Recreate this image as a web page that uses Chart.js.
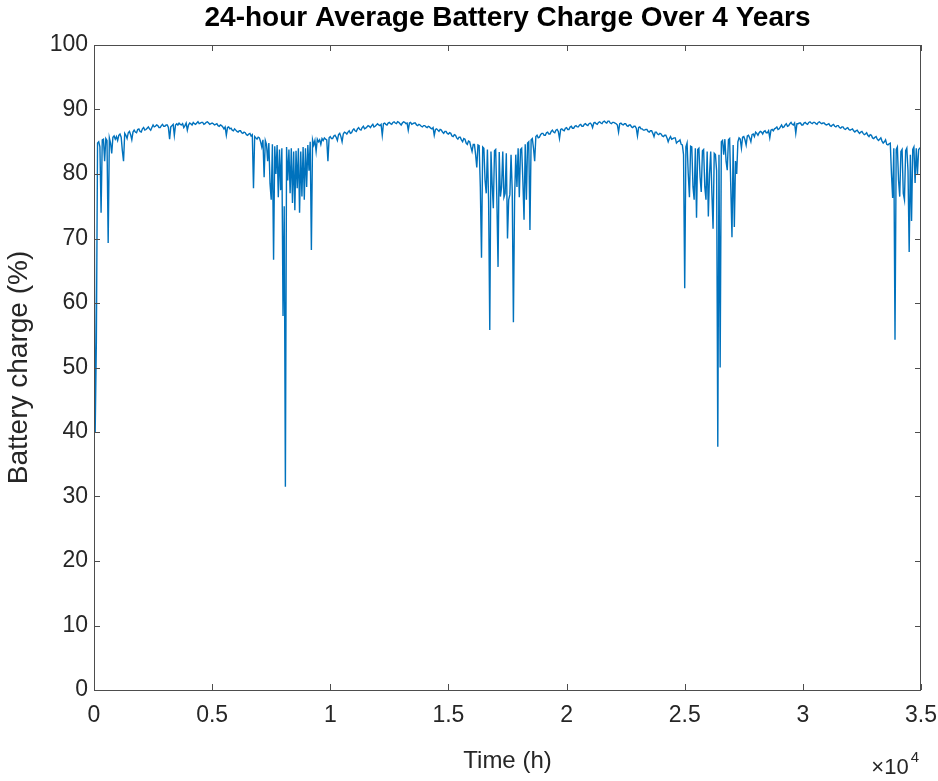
<!DOCTYPE html>
<html>
<head>
<meta charset="utf-8">
<title>24-hour Average Battery Charge Over 4 Years</title>
<script src="https://cdn.jsdelivr.net/npm/chart.js@4.4.1/dist/chart.umd.min.js"></script>
<style>
  html, body { margin: 0; padding: 0; background: #fff; }
  #chart { display: block; }
</style>
</head>
<body>
<canvas id="chart" width="938" height="781"></canvas>
<script>
// one sample every 50 h (0 .. 35000 h)
const SAMPLE_STEP_H = 50;

const charge = [
  84.3, 40.0, 54.0, 84.8, 85.0, 84.2, 74.0, 85.3, 85.4, 82.0,
  85.5, 85.2, 69.3, 85.6, 84.8, 83.2, 85.7, 85.9, 85.4, 85.8,
  85.2, 86.0, 86.2, 85.7, 83.6, 82.0, 86.3, 86.0, 85.5, 86.4,
  86.6, 86.1, 85.3, 86.5, 86.8, 86.5, 86.4, 86.9, 87.0, 86.6,
  86.5, 87.0, 87.2, 86.8, 86.9, 87.1, 87.3, 87.0, 86.8, 87.2,
  87.6, 87.3, 87.4, 87.6, 87.5, 87.2, 87.2, 87.5, 87.7, 87.4,
  87.4, 87.6, 87.6, 87.2, 85.4, 87.3, 87.5, 87.7, 86.0, 87.6,
  87.8, 87.6, 87.9, 87.7, 87.6, 87.8, 87.2, 87.5, 87.9, 86.8,
  87.6, 87.9, 87.8, 87.6, 88.0, 87.8, 87.7, 87.9, 88.1, 87.8,
  87.9, 88.0, 88.0, 87.7, 87.8, 88.0, 88.1, 87.9, 87.7, 87.8,
  87.9, 87.8, 87.6, 87.7, 87.8, 87.5, 87.4, 87.6, 87.5, 87.3,
  87.0, 87.3, 86.0, 87.2, 87.3, 87.0, 87.1, 86.8, 86.7, 87.0,
  86.8, 86.6, 86.5, 86.7, 86.7, 86.4, 86.3, 86.5, 86.4, 86.1,
  86.0, 86.2, 86.3, 85.9, 86.1, 77.8, 85.8, 85.6, 85.4, 85.7,
  85.6, 85.0, 84.2, 85.3, 79.5, 85.2, 84.6, 82.0, 84.8, 78.5,
  76.0, 84.6, 66.7, 84.3, 80.0, 84.5, 76.4, 83.8, 77.5, 84.0,
  58.0, 75.0, 31.5, 84.2, 79.0, 83.8, 77.0, 84.0, 75.5, 83.5,
  74.4, 83.6, 77.8, 84.0, 74.0, 83.5, 76.5, 84.2, 76.0, 84.0,
  78.0, 84.5, 80.5, 85.0, 68.2, 85.3, 84.5, 85.2, 83.5, 85.4,
  85.0, 85.3, 84.6, 85.5, 85.2, 85.6, 85.4, 85.3, 82.0, 85.6,
  85.8, 85.5, 85.5, 85.9, 86.0, 85.7, 85.2, 86.1, 86.3, 85.8,
  85.0, 86.2, 86.5, 86.4, 86.2, 86.5, 86.7, 86.3, 86.4, 86.8,
  87.0, 86.7, 86.6, 87.0, 87.2, 86.9, 86.8, 87.2, 87.4, 87.0,
  87.1, 87.3, 87.5, 87.4, 87.2, 87.5, 87.7, 87.3, 87.4, 87.6,
  87.8, 87.6, 87.5, 87.7, 86.0, 87.8, 87.9, 87.7, 87.6, 87.9,
  88.0, 87.8, 87.7, 88.0, 88.1, 87.9, 87.8, 88.1, 88.0, 87.8,
  87.6, 87.9, 88.1, 88.0, 87.8, 87.9, 86.8, 87.9, 88.0, 87.7,
  87.8, 87.9, 87.9, 87.6, 87.5, 87.7, 87.6, 87.4, 87.3, 87.5,
  87.5, 87.3, 87.2, 87.4, 87.3, 87.1, 87.0, 87.2, 86.0, 86.9,
  87.0, 86.8, 86.6, 86.9, 86.8, 86.5, 86.3, 86.6, 86.6, 86.3,
  86.2, 86.4, 86.3, 85.9, 85.8, 86.1, 86.0, 85.6, 85.4, 85.7,
  85.7, 85.3, 85.0, 85.5, 85.4, 84.8, 84.6, 85.1, 85.0, 84.2,
  83.5, 84.6, 84.6, 83.0, 81.0, 84.5, 84.4, 78.0, 67.0, 84.2,
  84.0, 79.0, 77.0, 83.8, 76.0, 55.8, 83.5, 78.5, 74.7, 83.6,
  83.8, 76.0, 65.6, 83.4, 76.5, 78.0, 83.5, 76.4, 77.0, 83.2,
  70.0, 76.0, 76.8, 83.0, 77.5, 57.0, 76.2, 83.0, 78.0, 84.0,
  76.4, 83.8, 84.0, 79.0, 72.9, 84.6, 76.0, 84.8, 85.0, 71.3,
  85.3, 85.5, 84.0, 82.0, 85.8, 86.0, 85.6, 85.7, 86.1, 86.3,
  86.3, 86.0, 86.0, 86.4, 86.5, 86.2, 86.2, 86.6, 86.8, 86.5,
  86.4, 86.8, 86.9, 86.6, 85.5, 86.9, 87.0, 86.8, 86.7, 87.1,
  87.2, 86.9, 86.9, 87.3, 87.4, 87.1, 87.1, 87.4, 87.5, 87.3,
  87.3, 87.6, 87.7, 87.4, 87.4, 87.7, 87.8, 87.6, 87.5, 87.8,
  87.9, 87.7, 87.2, 87.9, 88.0, 87.8, 87.7, 88.0, 88.1, 87.9,
  87.8, 88.1, 88.2, 88.0, 87.9, 88.2, 88.2, 87.9, 87.8, 88.0,
  88.0, 87.9, 87.8, 87.6, 86.5, 87.8, 87.9, 87.7, 87.6, 87.8,
  87.8, 87.5, 87.4, 87.6, 87.6, 87.3, 87.2, 87.4, 87.4, 87.1,
  85.9, 87.2, 87.3, 87.0, 87.0, 86.8, 86.8, 86.9, 86.9, 86.6,
  86.5, 86.7, 86.7, 86.3, 85.8, 86.5, 86.5, 86.2, 86.1, 86.3,
  86.2, 85.9, 85.8, 86.0, 86.0, 85.6, 85.0, 85.5, 85.8, 85.4,
  85.5, 85.6, 85.6, 84.8, 85.0, 85.1, 85.3, 84.6, 84.5, 83.0,
  62.3, 84.2, 84.8, 80.0, 76.4, 84.3, 84.2, 78.0, 76.0, 84.0,
  73.2, 83.8, 84.0, 79.5, 77.2, 83.6, 83.8, 78.0, 76.0, 83.5,
  73.4, 80.0, 83.5, 77.0, 71.5, 83.2, 83.0, 80.5, 37.7, 83.0,
  50.0, 85.0, 85.2, 83.0, 85.4, 82.0, 80.6, 85.3, 85.5, 78.0,
  70.2, 84.5, 71.8, 82.0, 80.0, 85.0, 85.6, 85.4, 84.0, 85.7,
  85.8, 85.3, 84.5, 85.9, 86.0, 85.6, 85.0, 86.1, 86.2, 85.8,
  86.5, 86.3, 86.0, 86.4, 86.6, 86.5, 86.2, 86.6, 86.7, 86.4,
  86.4, 86.7, 85.6, 86.8, 86.9, 86.7, 87.0, 87.1, 87.3, 86.9,
  87.0, 87.3, 87.6, 87.2, 87.3, 87.6, 87.8, 87.4, 87.5, 87.8,
  88.0, 87.7, 87.6, 87.9, 86.3, 87.8, 87.8, 87.9, 87.9, 87.6,
  87.6, 87.9, 88.0, 87.8, 87.7, 88.0, 88.1, 87.9, 87.8, 88.0,
  88.0, 87.8, 87.7, 88.0, 88.1, 87.9, 87.8, 87.9, 87.9, 87.7,
  87.6, 87.7, 87.8, 87.5, 87.4, 87.6, 87.7, 87.4, 87.3, 87.5,
  87.5, 87.2, 87.1, 87.3, 87.3, 87.0, 86.9, 87.1, 87.2, 86.9,
  86.8, 86.9, 87.0, 86.7, 86.5, 86.7, 86.8, 86.5, 86.3, 86.5,
  86.6, 86.3, 86.1, 86.2, 86.4, 86.0, 85.8, 86.1, 86.0, 85.6,
  85.5, 85.7, 85.8, 85.4, 85.2, 85.4, 85.6, 85.1, 84.8, 85.0,
  85.3, 84.6, 84.5, 84.7, 84.8, 80.0, 76.3, 84.0, 54.3, 83.8,
  84.2, 79.0, 76.5, 83.5, 83.8, 77.0, 76.0, 83.6, 84.0, 80.5,
  67.9, 83.0, 72.7, 83.8, 84.2, 78.6, 84.0, 80.0, 83.8, 84.0,
  84.2
];

const timeHours = charge.map((_, i) => i * SAMPLE_STEP_H);

const xTickLabels = ["0", "0.5", "1", "1.5", "2", "2.5", "3", "3.5"];

const TITLE = "24-hour Average Battery Charge Over 4 Years";
const FONT = '"Liberation Sans", Arial, Helvetica, sans-serif';
const TEXT_COLOR = "#262626";
const AXIS_COLOR = "#4d4d4d";
const LINE_COLOR = "#0072BD";
const TICK_LEN = 6;

// matlab look: box, inward ticks on all sides, title over the axes, x10^4 multiplier
const matlabFrame = {
  id: "matlabFrame",
  afterDatasetsDraw(chart) {
    const { ctx, chartArea: a, scales: { x, y } } = chart;
    ctx.save();
    ctx.strokeStyle = AXIS_COLOR;
    ctx.lineWidth = 1;
    ctx.strokeRect(a.left + 0.5, a.top + 0.5, a.right - a.left - 1, a.bottom - a.top);

    ctx.beginPath();
    x.ticks.forEach((t) => {
      const px = Math.round(x.getPixelForValue(t.value)) + 0.5;
      ctx.moveTo(px, a.bottom);
      ctx.lineTo(px, a.bottom - TICK_LEN);
      ctx.moveTo(px, a.top);
      ctx.lineTo(px, a.top + TICK_LEN);
    });
    y.ticks.forEach((t) => {
      const py = Math.round(y.getPixelForValue(t.value)) + 0.5;
      ctx.moveTo(a.left, py);
      ctx.lineTo(a.left + TICK_LEN, py);
      ctx.moveTo(a.right, py);
      ctx.lineTo(a.right - TICK_LEN, py);
    });
    ctx.stroke();

    ctx.fillStyle = "#000";
    ctx.textAlign = "center";
    ctx.textBaseline = "alphabetic";
    ctx.font = "bold 28px " + FONT;
    ctx.fillText(TITLE, (a.left + a.right) / 2, 26);

    ctx.fillStyle = TEXT_COLOR;
    ctx.textAlign = "right";
    ctx.font = "15px " + FONT;
    const supW = ctx.measureText("4").width;
    ctx.fillText("4", a.right - 2, 762);
    ctx.font = "22px " + FONT;
    ctx.fillText("\u00d710", a.right - 4 - supW, 774);
    ctx.restore();
  },
};

const ctx = document.getElementById("chart").getContext("2d");

new Chart(ctx, {
  type: "line",
  data: {
    datasets: [{
      label: "Battery charge",
      data: timeHours.map((t, i) => ({ x: t, y: charge[i] })),
      borderColor: LINE_COLOR,
      backgroundColor: LINE_COLOR,
      borderWidth: 1.4,
      pointRadius: 0,
      tension: 0,
      fill: false,
    }],
  },
  options: {
    responsive: false,
    animation: false,
    layout: { padding: { left: 0, right: 17, top: 45, bottom: 0 } },
    scales: {
      x: {
        type: "linear",
        min: 0,
        max: 35000,
        grid: { display: false, drawTicks: false },
        border: { display: false },
        ticks: {
          stepSize: 5000,
          padding: 12,
          color: TEXT_COLOR,
          font: { family: FONT, size: 23 },
          maxRotation: 0,
          callback: (v, i) => xTickLabels[i],
        },
        title: {
          display: true,
          text: "Time (h)",
          color: TEXT_COLOR,
          font: { family: FONT, size: 24 },
          padding: { top: 0, bottom: 5 },
        },
        afterFit: (scale) => {
          scale.height = 91;
          scale.paddingLeft = 0;
          scale.paddingRight = 0;
        },
      },
      y: {
        min: 0,
        max: 100,
        grid: { display: false, drawTicks: false },
        border: { display: false },
        ticks: {
          stepSize: 10,
          padding: 6,
          color: TEXT_COLOR,
          font: { family: FONT, size: 23 },
        },
        title: {
          display: true,
          text: "Battery charge (%)",
          color: TEXT_COLOR,
          font: { family: FONT, size: 28 },
          padding: { top: 2, bottom: 0 },
        },
        afterFit: (scale) => { scale.width = 94; },
      },
    },
    plugins: {
      legend: { display: false },
      tooltip: { enabled: false },
      title: { display: false },
    },
  },
  plugins: [matlabFrame],
});
</script>
</body>
</html>
